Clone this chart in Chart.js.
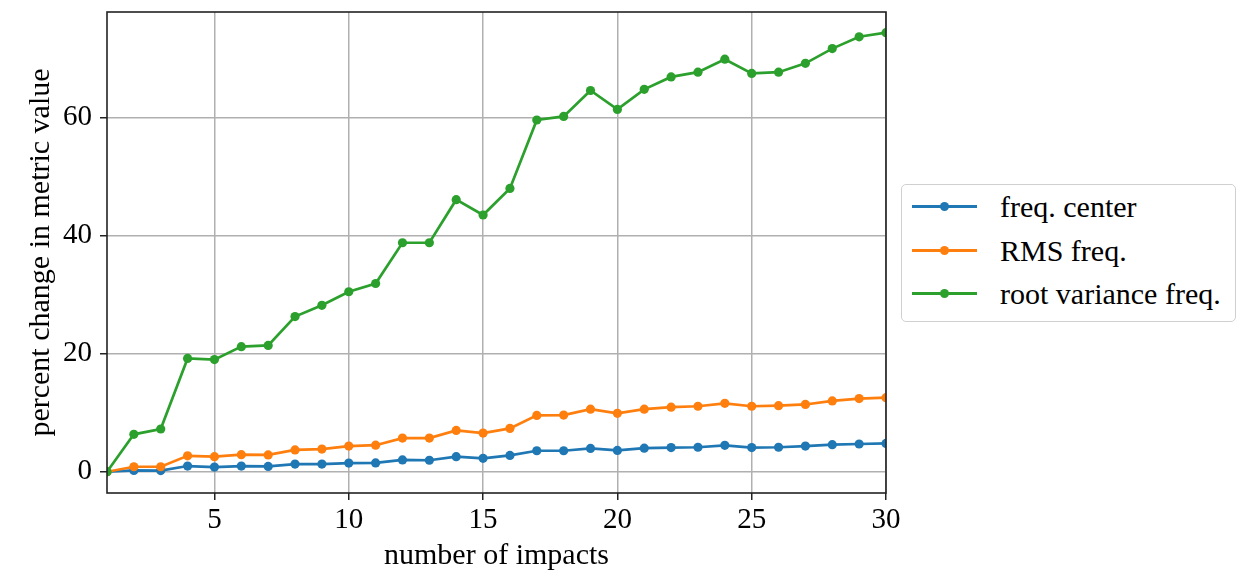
<!DOCTYPE html>
<html lang="en">
<head>
    <meta charset="UTF-8">
    <title>Percent change vs number of impacts</title>
    <style>
        body {
            margin: 0;
            background: #fff;
            font-family: "Liberation Serif", "Times New Roman", serif;
        }
        #wrap {
            position: relative;
            width: 1253px;
            height: 573px;
        }
        #legend {
            position: absolute;
            left: 901px;
            top: 184px;
            width: 333px;
            height: 136px;
            border: 1.5px solid #d0d0d0;
            border-radius: 5px;
            background: #fff;
        }
        .item {
            position: absolute;
            left: 0;
            height: 30px;
            font-size: 30px;
            line-height: 30px;
            color: #000;
        }
        .swatch {
            position: absolute;
            left: 10px;
            top: 13px;
            width: 65px;
            height: 3px;
        }
        .swatch span {
            position: absolute;
            left: 28px;
            top: -3px;
            width: 9px;
            height: 9px;
            border-radius: 50%;
        }
        .label {
            position: absolute;
            left: 98px;
            top: 0;
            white-space: nowrap;
        }
    </style>
    <script src="https://cdn.jsdelivr.net/npm/chart.js"></script>
</head>
<body>
<div id="wrap">
    <canvas id="chart" width="1253" height="573"></canvas>
    <div id="legend"></div>
</div>
<script>
    // number of impacts
    const impacts = [1, 2, 3, 4, 5, 6, 7, 8, 9, 10, 11, 12, 13, 14, 15,
                     16, 17, 18, 19, 20, 21, 22, 23, 24, 25, 26, 27, 28, 29, 30];

    // percent change in metric value
    const freqCenter = [0, 0.23, 0.2, 0.97, 0.8, 0.97, 0.9, 1.3, 1.3, 1.47, 1.5, 2.0, 1.95, 2.55, 2.27,
                        2.77, 3.56, 3.56, 3.96, 3.62, 4.0, 4.1, 4.15, 4.47, 4.1, 4.15, 4.35, 4.58, 4.7, 4.8];
    const rmsFreq = [0, 0.85, 0.85, 2.7, 2.55, 2.9, 2.85, 3.7, 3.85, 4.35, 4.5, 5.7, 5.7, 7.0, 6.55,
                     7.35, 9.55, 9.6, 10.6, 9.9, 10.6, 10.95, 11.1, 11.6, 11.1, 11.2, 11.4, 12.0, 12.4, 12.55];
    const rootVarFreq = [0, 6.34, 7.24, 19.2, 19.0, 21.2, 21.4, 26.3, 28.2, 30.5, 31.9, 38.8, 38.8, 46.1, 43.5,
                         48.0, 59.6, 60.2, 64.6, 61.4, 64.8, 66.9, 67.7, 69.9, 67.5, 67.7, 69.2, 71.7, 73.7, 74.4];

    const seriesNames = ['freq. center', 'RMS freq.', 'root variance freq.'];
    const seriesColors = ['#1f77b4', '#ff7f0e', '#2ca02c'];

    const xTickValues = [5, 10, 15, 20, 25, 30];
    const yTickValues = [0, 20, 40, 60];

    const serif = '"Liberation Serif", "Times New Roman", serif';

    function toPoints(values) {
        return impacts.map((x, i) => ({ x: x, y: values[i] }));
    }

    // black frame round the plot, like the matplotlib spines
    const frame = {
        id: 'frame',
        afterDatasetsDraw(chart) {
            const a = chart.chartArea;
            const ctx = chart.ctx;
            ctx.save();
            ctx.strokeStyle = '#222';
            ctx.lineWidth = 1.6;
            ctx.strokeRect(a.left, a.top, a.right - a.left, a.bottom - a.top);
            ctx.restore();
        }
    };

    const allSeries = [freqCenter, rmsFreq, rootVarFreq];
    const datasets = allSeries.map((vals, i) => ({
        label: seriesNames[i],
        data: toPoints(vals),
        borderColor: seriesColors[i],
        backgroundColor: seriesColors[i],
        borderWidth: 2.7,
        pointRadius: 4.6,
        pointHoverRadius: 4.6,
        pointBorderWidth: 0,
        tension: 0,
        order: 3 - i
    }));

    new Chart(document.getElementById('chart'), {
        type: 'line',
        data: { datasets: datasets },
        plugins: [frame],
        options: {
            responsive: false,
            animation: false,
            events: [],
            layout: { padding: { left: 0, top: 12, right: 367, bottom: 0 } },
            plugins: {
                legend: { display: false },
                tooltip: { enabled: false }
            },
            scales: {
                x: {
                    type: 'linear',
                    min: 1,
                    max: 30,
                    afterBuildTicks: s => { s.ticks = xTickValues.map(v => ({ value: v })); },
                    afterFit: s => { s.height = 80; s.paddingLeft = 0; s.paddingRight = 0; },
                    grid: {
                        color: '#b0b0b0',
                        lineWidth: 1.5,
                        tickColor: '#222',
                        tickLength: 7,
                        tickWidth: 1.5
                    },
                    border: { display: false },
                    ticks: {
                        color: '#000',
                        padding: 3,
                        maxRotation: 0,
                        font: { family: serif, size: 29 }
                    },
                    title: {
                        display: true,
                        text: 'number of impacts',
                        color: '#000',
                        font: { family: serif, size: 30 },
                        padding: { top: 0, bottom: -1 }
                    }
                },
                y: {
                    type: 'linear',
                    min: -3.6,
                    max: 77.9,
                    afterBuildTicks: s => { s.ticks = yTickValues.map(v => ({ value: v })); },
                    afterFit: s => { s.width = 107; s.paddingTop = 0; s.paddingBottom = 0; },
                    grid: {
                        color: '#b0b0b0',
                        lineWidth: 1.5,
                        tickColor: '#222',
                        tickLength: 7,
                        tickWidth: 1.5
                    },
                    border: { display: false },
                    ticks: {
                        color: '#000',
                        padding: 8,
                        font: { family: serif, size: 29 }
                    },
                    title: {
                        display: true,
                        text: 'percent change in metric value',
                        color: '#000',
                        font: { family: serif, size: 30 },
                        padding: { top: 23, bottom: 0 }
                    }
                }
            }
        }
    });

    // legend box on the right
    const legend = document.getElementById('legend');
    seriesNames.forEach((name, i) => {
        const row = document.createElement('div');
        row.className = 'item';
        row.style.top = (7 + i * 43.5) + 'px';
        row.style.width = '100%';
        row.innerHTML = '<div class="swatch" style="background:' + seriesColors[i] + '">' +
            '<span style="background:' + seriesColors[i] + '"></span></div>' +
            '<div class="label">' + name + '</div>';
        legend.appendChild(row);
    });
</script>
</body>
</html>
